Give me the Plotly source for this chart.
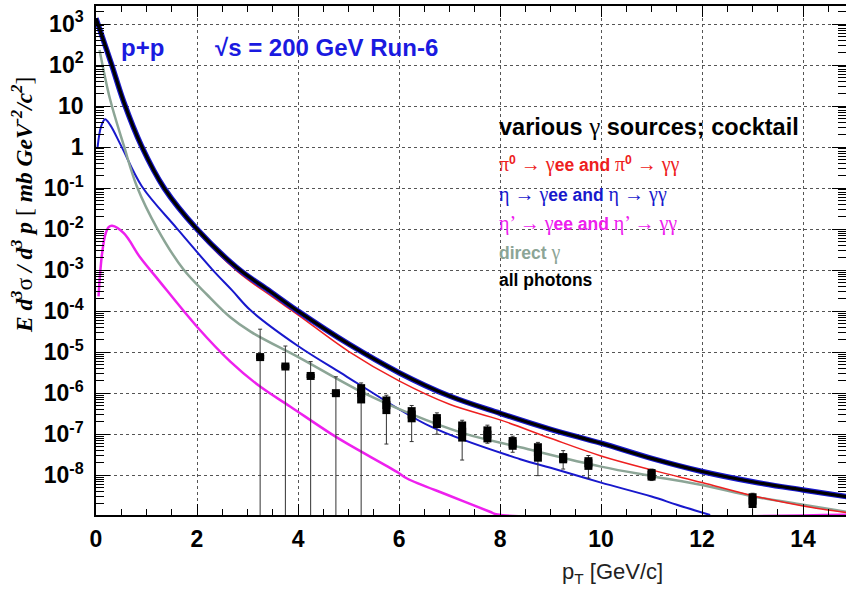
import numpy as np
import plotly.graph_objects as go

# curves: pT [GeV/c] and log10 of E d3sigma/d3p
x_all = [0.0, 0.3, 0.55, 0.9, 1.35, 2.0, 2.8, 3.45, 4.0, 5.0, 6.0, 7.0, 8.0, 9.0, 10.0, 11.0, 12.0, 13.0, 14.0, 14.9]
log_all = [3.14, 2.05, 1.1, 0.03, -1.0, -2.0, -2.95, -3.52, -4.0, -4.8, -5.5, -6.07, -6.49, -6.88, -7.22, -7.59, -7.91, -8.16, -8.36, -8.53]

x_pi0 = [0.0, 0.3, 0.55, 0.9, 1.35, 2.0, 2.8, 3.5, 4.0, 5.0, 6.0, 7.0, 8.0, 9.0, 10.0, 11.0, 12.0, 13.0, 14.0, 14.9]
log_pi0 = [3.1, 2.0, 1.05, -0.02, -1.05, -2.06, -3.03, -3.66, -4.09, -4.98, -5.7, -6.27, -6.65, -7.1, -7.53, -7.87, -8.18, -8.5, -8.75, -8.92]

x_eta = [0.03, 0.1, 0.18, 0.28, 0.51, 0.91, 1.6, 2.3, 2.7, 3.06, 4.0, 4.84, 5.23, 6.62, 8.4, 9.0, 10.0, 11.0, 11.5, 12.16]
log_eta = [-0.02, 0.5, 0.68, 0.54, 0.0, -0.96, -1.98, -2.98, -3.5, -3.98, -4.85, -5.5, -5.8, -6.81, -7.61, -7.82, -8.18, -8.52, -8.72, -8.97]

x_etap = [0.05, 0.08, 0.12, 0.18, 0.25, 0.32, 0.55, 0.88, 1.21, 2.0, 2.66, 3.25, 3.85, 4.64, 5.0, 5.96, 6.16, 7.0, 7.8, 7.95, 15.0]
log_etap = [-3.64, -3.1, -2.6, -2.15, -1.95, -1.92, -2.1, -2.7, -3.2, -4.38, -5.23, -5.84, -6.33, -6.98, -7.25, -7.92, -8.08, -8.5, -8.89, -8.96, -8.96]

x_dir = [0.07, 0.28, 0.55, 0.81, 1.21, 1.73, 2.2, 2.66, 3.06, 4.05, 5.23, 6.22, 7.28, 8.4, 10.0, 11.04, 12.0, 13.02, 14.0, 14.9]
log_dir = [2.37, 1.16, 0.04, -0.96, -1.98, -2.98, -3.6, -4.15, -4.5, -5.15, -5.95, -6.5, -6.98, -7.32, -7.79, -8.03, -8.24, -8.52, -8.72, -8.9]

# measured points (log10 values)
pt_x = [3.25, 3.75, 4.25, 4.75, 5.25, 5.75, 6.25, 6.75, 7.25, 7.75, 8.25, 8.75, 9.25, 9.75, 11.0, 13.0]
pt_log = [-5.12, -5.35, -5.58, -6.0, -6.0, -6.29, -6.52, -6.68, -6.94, -7.01, -7.23, -7.44, -7.58, -7.71, -7.99, -8.62]
stat_hi_log = [-4.44, -4.85, -5.23, -5.6, -5.75, -6.05, -6.3, -6.48, -6.66, -6.78, -7.05, -7.2, -7.4, -7.52, -7.85, -8.44]
stat_lo_log = [-10, -10, -10, -10, -10, -7.24, -7.18, -7.0, -7.63, -7.22, -7.44, -8.01, -7.85, -8.07, -8.13, -10]
sys_hi_log = [-5.07, -5.3, -5.53, -5.95, -5.78, -6.08, -6.34, -6.51, -6.69, -6.81, -7.07, -7.22, -7.46, -7.56, -7.85, -8.44]
sys_lo_log = [-5.17, -5.4, -5.63, -6.05, -6.25, -6.51, -6.71, -6.85, -7.18, -7.2, -7.38, -7.67, -7.71, -7.87, -8.13, -8.8]

y_ticks = [-8, -7, -6, -5, -4, -3, -2, -1, 0, 1, 2, 3]
y_ticktext = ['10<sup>-8</sup>', '10<sup>-7</sup>', '10<sup>-6</sup>', '10<sup>-5</sup>', '10<sup>-4</sup>',
              '10<sup>-3</sup>', '10<sup>-2</sup>', '10<sup>-1</sup>', '1', '10', '10<sup>2</sup>', '10<sup>3</sup>']
y_minor = [m * 10.0 ** k for k in range(-9, 4) for m in range(2, 10)]

Y_RANGE = [-8.97, 3.44]
RED = '#ee2020'
BLUE = '#1818cc'
MAGENTA = '#ee20ee'
GREY = '#8ca596'
TEXTBLUE = '#1a1ae0'


def p10(v):
    return 10 ** np.array(v, dtype=float)


def greek(s, size=20):
    return (f'<span style="font-family:Liberation Serif;font-weight:normal;font-size:{size}px">'
            f'{s}</span>')


fig = go.Figure()

curve = dict(mode='lines', line_shape='spline', hoverinfo='skip', showlegend=False)
fig.add_trace(go.Scatter(x=x_etap, y=p10(log_etap), line=dict(color=MAGENTA, width=2.5), **curve))
fig.add_trace(go.Scatter(x=x_eta, y=p10(log_eta), line=dict(color=BLUE, width=2), **curve))
fig.add_trace(go.Scatter(x=x_dir, y=p10(log_dir), line=dict(color=GREY, width=2.5), **curve))
fig.add_trace(go.Scatter(x=x_pi0, y=p10(log_pi0), line=dict(color=RED, width=1.5), **curve))
fig.add_trace(go.Scatter(x=x_all, y=p10(log_all), line=dict(color=BLUE, width=5.5), **curve))
fig.add_trace(go.Scatter(x=x_all, y=p10(log_all), line=dict(color='black', width=3.2), **curve))

py = p10(pt_log)
# statistical errors
fig.add_trace(go.Scatter(
    x=pt_x, y=py, mode='markers', marker=dict(size=1, opacity=0), showlegend=False, hoverinfo='skip',
    error_y=dict(type='data', symmetric=False, array=p10(stat_hi_log) - py, arrayminus=py - p10(stat_lo_log),
                 color='#333333', thickness=1, width=2)))
# systematic boxes + points
fig.add_trace(go.Scatter(
    x=pt_x, y=py, mode='markers', marker=dict(symbol='square', size=8, color='black'), showlegend=False,
    error_y=dict(type='data', symmetric=False, array=p10(sys_hi_log) - py, arrayminus=py - p10(sys_lo_log),
                 color='black', thickness=8, width=0)))

# empty trace so the minor-tick axis gets drawn
fig.add_trace(go.Scatter(x=[None], y=[None], yaxis='y2', showlegend=False, hoverinfo='skip'))

ann = []


def add_text(text, px, pyy, size, color, bold=True, family='Liberation Sans', xanchor='left'):
    ann.append(dict(text=text, xref='paper', yref='paper', x=(px - 96) / 750, y=(515 - pyy) / 509,
                    xanchor=xanchor, yanchor='middle', showarrow=False,
                    font=dict(family=family, size=size, color=color, weight='bold' if bold else 'normal')))


add_text('p+p', 119, 47, 24, TEXTBLUE)
add_text('√s = 200 GeV Run-6', 213, 47, 24, TEXTBLUE)
add_text(f'various {greek("γ", 25)} sources; cocktail', 497, 127, 23.5, 'black')
add_text(f'{greek("π")}<sup>0</sup> {greek("→ γ")}ee and {greek("π")}<sup>0</sup> {greek("→ γγ")}', 497, 165, 17.5, RED)
add_text(f'{greek("η → γ")}ee and {greek("η → γγ")}', 497, 194, 17.5, BLUE)
add_text(f'{greek("η’ → γ")}ee and {greek("η’ → γγ")}', 497, 223, 17.5, MAGENTA)
add_text(f'direct {greek("γ")}', 497, 252, 17.5, GREY)
add_text('all photons', 497, 280, 17.5, 'black')
add_text('p<sub>T</sub> [GeV/c]', 560, 573, 22, '#222222', bold=False)

ann.append(dict(
    text='<b><i>E d<sup>3</sup></i></b>σ<b><i> / d<sup>3</sup> p </i></b>[<b><i> mb GeV<sup>-2</sup>/c<sup>2</sup></i></b>]',
    xref='paper', yref='paper', x=(22 - 96) / 750, y=(515 - 205) / 509, textangle=-90,
    xanchor='center', yanchor='middle', showarrow=False,
    font=dict(family='Liberation Serif', size=23.5, color='black')))

tickfont = dict(family='Liberation Sans', size=23, color='black', weight='bold')

fig.update_layout(
    width=846, height=592,
    margin=dict(l=96, r=0, t=6, b=77),
    paper_bgcolor='white', plot_bgcolor='white',
    annotations=ann,
    xaxis=dict(range=[0, 14.85], dtick=2, tick0=0, ticks='inside', ticklen=11, tickwidth=1, tickcolor='black',
               showline=True, linecolor='black', linewidth=1.5, mirror='ticks', automargin=False,
               showgrid=True, gridcolor='#555555', griddash='dot', gridwidth=1, zeroline=False,
               tickfont=tickfont, ticklabelstandoff=3,
               minor=dict(dtick=0.5, ticks='inside', ticklen=6, tickcolor='black', showgrid=False)),
    yaxis=dict(type='log', range=Y_RANGE, tickvals=p10(y_ticks), ticktext=y_ticktext,
               ticks='inside', ticklen=14, tickwidth=1, tickcolor='black',
               showline=True, linecolor='black', linewidth=1.5, mirror='ticks', automargin=False,
               showgrid=True, gridcolor='#555555', griddash='dot', gridwidth=1, zeroline=False,
               tickfont=tickfont, ticklabelstandoff=6),
    yaxis2=dict(type='log', range=Y_RANGE, overlaying='y', side='left', tickvals=y_minor,
                showticklabels=False, ticks='inside', ticklen=8, tickwidth=1, tickcolor='black',
                showline=False, mirror='ticks', showgrid=False, zeroline=False, automargin=False),
)

fig.write_html("out.html", config={'displayModeBar': False},
               post_script="document.body.style.margin='0';")
